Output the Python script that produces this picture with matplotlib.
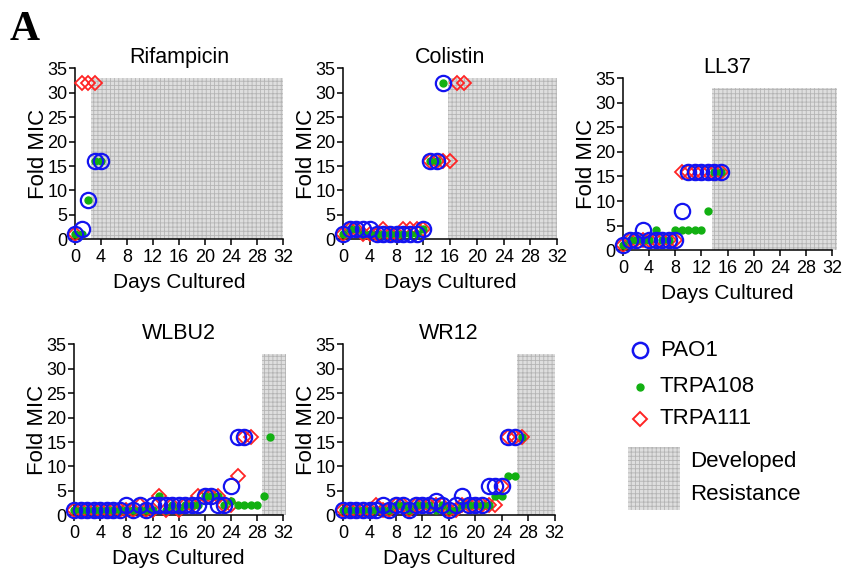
import numpy as np
import matplotlib
matplotlib.use('Agg')
import matplotlib.pyplot as plt
from matplotlib.patches import Rectangle

plt.rcParams['font.family'] = ['Liberation Sans', 'DejaVu Sans']
plt.rcParams['hatch.linewidth'] = 0.6

# drug panels
drugs = ['Rifampicin', 'Colistin', 'LL37', 'WLBU2', 'WR12']

# fold MIC per day (day index = position in list)
pao1 = {
    'Rifampicin': [1, 2, 8, 16, 16],
    'Colistin': [1, 2, 2, 2, 2, 1, 1, 1, 1, 1, 1, 1, 2, 16, 16, 32],
    'LL37': [1, 2, 2, 4, 2, 2, 2, 2, 2, 8, 16, 16, 16, 16, 16, 16],
    'WLBU2': [1, 1, 1, 1, 1, 1, 1, 1, 2, 1, 2, 1, 2, 2, 2, 2, 2, 2, 2, 2, 4, 4, 2, 2, 6, 16, 16],
    'WR12': [1, 1, 1, 1, 1, 1, 2, 1, 2, 2, 1, 2, 2, 2, 3, 2, 1, 2, 4, 2, 2, 2, 6, 6, 6, 16, 16],
}
trpa108 = {
    'Rifampicin': [1, 1, 8, 16, 16],
    'Colistin': [1, 2, 2, 1, 1, 1, 1, 1, 1, 1, 1, 1, 2, 16, 16, 32],
    'LL37': [1, 2, 2, 2, 2, 4, 2, 2, 4, 4, 4, 4, 4, 8, 16, 16],
    'WLBU2': [1, 1, 1, 1, 1, 1, 1, 1, 1, 1, 1, 1, 1, 4, 1, 2, 1, 2, 2, 2, 4, 4, 4, 2, 3, 2, 2, 2, 2, 4, 16],
    'WR12': [1, 1, 1, 1, 1, 1, 1, 1, 2, 2, 1, 2, 2, 2, 1, 2, 1, 1, 2, 2, 2, 2, 2, 4, 4, 8, 8, 16],
}
trpa111 = {
    'Rifampicin': [1, 32, 32, 32],
    'Colistin': [1, 2, 2, 1, 1, 1, 2, 1, 1, 2, 2, 2, 2, 16, 16, 16, 16, 32, 32],
    'LL37': [1, 2, 2, 2, 2, 2, 2, 2, 2, 16, 16, 16, 16, 16, 16, 16],
    'WLBU2': [1, 1, 1, 1, 1, 1, 1, 1, 1, 1, 2, 1, 1, 4, 1, 2, 1, 2, 2, 4, 4, 4, 4, 2, 2, 8, 16, 16],
    'WR12': [1, 1, 1, 1, 1, 2, 1, 1, 2, 2, 1, 2, 2, 2, 2, 2, 1, 1, 2, 2, 2, 2, 2, 2, 6, 16, 16, 16],
}

# developed resistance window (days) and its top (fold MIC)
resist_start = [2.5, 15.7, 13.6, 28.8, 26.3]
resist_end = [32, 32, 32.7, 32.4, 32]
resist_top = 33

x_ticks = [0, 4, 8, 12, 16, 20, 24, 28, 32]
y_ticks = [0, 5, 10, 15, 20, 25, 30, 35]

# axes boxes in figure fractions (left, bottom, width, height)
boxes = [
    [0.089, 0.584, 0.247, 0.297],
    [0.407, 0.584, 0.254, 0.297],
    [0.739, 0.565, 0.248, 0.299],
    [0.088, 0.104, 0.248, 0.297],
    [0.407, 0.104, 0.251, 0.297],
]

shade_face = '#dedede'
shade_hatch = '#b4b4b4'

blue = '#1414f0'
green = '#12b012'
red = '#ff2424'

fig = plt.figure(figsize=(8.43, 5.75), dpi=100)

for i, drug in enumerate(drugs):
    ax = fig.add_axes(boxes[i])

    # shaded block for developed resistance
    ax.add_patch(Rectangle((resist_start[i], 0), resist_end[i] - resist_start[i], resist_top,
                           facecolor=shade_face, edgecolor=shade_hatch, hatch='++++',
                           linewidth=0, zorder=1, clip_on=False))

    y = trpa111[drug]
    ax.plot(np.arange(len(y)), y, linestyle='none', marker='D', markersize=7.5,
            markerfacecolor='none', markeredgecolor=red, markeredgewidth=1.3,
            zorder=3, clip_on=False)
    y = trpa108[drug]
    ax.plot(np.arange(len(y)), y, linestyle='none', marker='o', markersize=5,
            color=green, zorder=4, clip_on=False)
    y = pao1[drug]
    ax.plot(np.arange(len(y)), y, linestyle='none', marker='o', markersize=11,
            markerfacecolor='none', markeredgecolor=blue, markeredgewidth=1.6,
            zorder=5, clip_on=False)

    ax.set_xlim(0, 32)
    ax.set_ylim(0, 35)
    ax.set_xticks(x_ticks)
    ax.set_yticks(y_ticks)
    for s in ['top', 'right']:
        ax.spines[s].set_visible(False)
    for s in ['left', 'bottom']:
        ax.spines[s].set_linewidth(1.1)
    ax.tick_params(axis='x', direction='out', length=4, width=1.1, labelsize=13, pad=3)
    ax.tick_params(axis='y', direction='out', length=4, width=1.1, labelsize=13, pad=1.5)
    ax.set_title(drug, fontsize=15.5, pad=3)
    ax.set_xlabel('Days Cultured', fontsize=15, labelpad=5)
    ax.set_ylabel('Fold MIC', fontsize=16, labelpad=-1)

# overlay in pixel coords for the panel letter and legend
lax = fig.add_axes([0, 0, 1, 1])
lax.set_xlim(0, 843)
lax.set_ylim(575, 0)
lax.axis('off')

lax.text(10, 40, 'A', fontsize=30, fontweight='bold', family='Liberation Serif',
         ha='left', va='baseline')

lax.plot([640], [350], linestyle='none', marker='o', markersize=11, markerfacecolor='none',
         markeredgecolor=blue, markeredgewidth=1.8)
lax.plot([640], [387], linestyle='none', marker='o', markersize=5, color=green)
lax.plot([640], [419], linestyle='none', marker='D', markersize=7, markerfacecolor='none',
         markeredgecolor=red, markeredgewidth=1.4)
lax.text(660, 350, 'PAO1', fontsize=16, va='center', ha='left')
lax.text(660, 387, 'TRPA108', fontsize=16, va='center', ha='left')
lax.text(660, 419, 'TRPA111', fontsize=16, va='center', ha='left')
lax.add_patch(Rectangle((628, 447), 52, 63, facecolor=shade_face, edgecolor=shade_hatch,
                        hatch='++++', linewidth=0))
lax.text(690, 461, 'Developed', fontsize=16, va='center', ha='left')
lax.text(690, 494, 'Resistance', fontsize=16, va='center', ha='left')

fig.savefig('out.png', dpi=100)
